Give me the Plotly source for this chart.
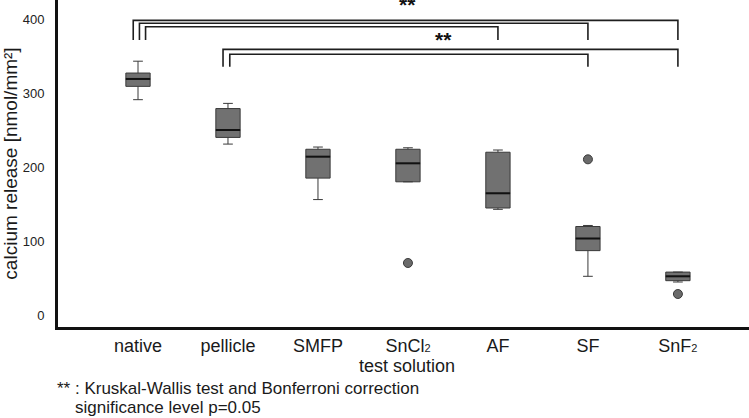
import plotly.graph_objects as go

SUB2 = "<span style='font-size:11px'>2</span>"
categories = ["native", "pellicle", "SMFP", "SnCl" + SUB2, "AF", "SF", "SnF" + SUB2]
upper_whisker = [343, 286, 227, 226, 223, 121, 58]
q3 = [327, 279, 224, 224, 220, 119.6, 58]
median = [319, 250, 214, 205, 164.5, 103.4, 52.3]
q1 = [309, 240, 185, 180, 144.6, 87, 46.4]
lower_whisker = [291, 231, 156, 180, 142.8, 52.3, 44.6]
outlier_cat = [3, 5, 6]
outlier_val = [70.3, 210.4, 28.4]

# significance comparisons: (from index, to index, bar height, leg bottom, left offset)
comparisons = [
    (0, 6, 398.2, 371.6, -0.053),
    (0, 5, 394.2, 371.6, 0.016),
    (0, 4, 389.6, 371.6, 0.084),
    (1, 6, 359.0, 335.5, -0.055),
    (1, 5, 352.3, 335.5, 0.02),
]
star_labels = [(2.99, 419.0), (3.39, 372.0)]
yticks = [0, 100, 200, 300, 400]

BOX_W = 0.27
FONT = "Liberation Sans, Arial, sans-serif"

fig = go.Figure()
for i, c in enumerate(categories):
    fig.add_trace(go.Box(
        x=[i], q1=[q1[i]], median=[median[i]], q3=[q3[i]],
        lowerfence=[lower_whisker[i]], upperfence=[upper_whisker[i]],
        name=c, width=BOX_W, whiskerwidth=0.4,
        fillcolor="#717171", line=dict(color="#3a3a3a", width=1),
        boxpoints=False, showlegend=False, hoverinfo="skip",
    ))
    fig.add_shape(type="line", x0=i - BOX_W / 2, x1=i + BOX_W / 2,
                  y0=median[i], y1=median[i], xref="x", yref="y",
                  line=dict(color="#111111", width=2))

fig.add_trace(go.Scatter(
    x=outlier_cat, y=outlier_val, mode="markers",
    marker=dict(size=9, color="#6a6a6a", line=dict(color="#3a3a3a", width=1)),
    showlegend=False, hoverinfo="skip",
))

for a, b, top, leg, off in comparisons:
    xa = a + off
    fig.add_shape(type="path", xref="x", yref="y",
                  path=f"M {xa} {leg} L {xa} {top} L {b} {top} L {b} {leg}",
                  line=dict(color="#1e1e1e", width=1.6))

for sx, sy in star_labels:
    fig.add_annotation(x=sx, y=sy, xref="x", yref="y", text="<b>**</b>", showarrow=False,
                       font=dict(family=FONT, size=21, color="#111111"))

fig.add_annotation(x=(407 - 58) / 691, y=-(366 - 327) / 327, xref="paper", yref="paper",
                   yanchor="middle", text="test solution", showarrow=False,
                   font=dict(family=FONT, size=18, color="#1a1a1a"))
fig.add_annotation(x=(55 - 58) / 691, y=-(388 - 327) / 327, xref="paper", yref="paper",
                   xanchor="left", yanchor="middle",
                   text="** : Kruskal-Wallis test and Bonferroni correction",
                   showarrow=False, font=dict(family=FONT, size=17, color="#1a1a1a"))
fig.add_annotation(x=(73 - 58) / 691, y=-(407 - 327) / 327, xref="paper", yref="paper",
                   xanchor="left", yanchor="middle", text="significance level p=0.05",
                   showarrow=False, font=dict(family=FONT, size=17, color="#1a1a1a"))

fig.update_layout(
    width=749, height=418,
    margin=dict(l=58, r=0, t=0, b=91, autoexpand=False),
    paper_bgcolor="white", plot_bgcolor="white",
    xaxis=dict(range=[-0.889, 6.79], tickvals=list(range(len(categories))),
               ticktext=categories, showgrid=False, zeroline=False, automargin=False,
               showline=True, linecolor="#111111", linewidth=3, ticks="outside",
               ticklen=0, tickcolor="rgba(0,0,0,0)",
               tickfont=dict(family=FONT, size=18, color="#1a1a1a")),
    yaxis=dict(range=[-16.2, 425.7], tickvals=yticks, showgrid=False, zeroline=False,
               automargin=False,
               showline=True, linecolor="#111111", linewidth=3, ticks="outside",
               ticklen=8, tickcolor="rgba(0,0,0,0)",
               tickfont=dict(family=FONT, size=13, color="#222222"),
               title=dict(text="calcium release [nmol/mm²]", standoff=16,
                          font=dict(family=FONT, size=19, color="#1a1a1a"))),
)

fig.write_html("out.html", config={"displayModeBar": False},
               post_script="document.body.style.margin='0';document.body.style.padding='0';")
